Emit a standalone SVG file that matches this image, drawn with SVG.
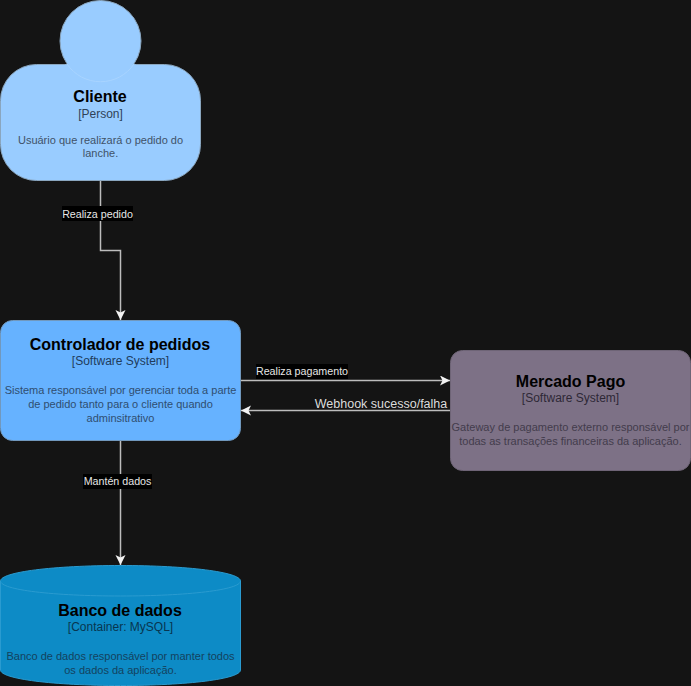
<svg xmlns="http://www.w3.org/2000/svg" width="691" height="686" viewBox="0 0 691 686">
<defs>
<marker id="ah" markerUnits="userSpaceOnUse" markerWidth="12" markerHeight="12" refX="10" refY="5" orient="auto"><path d="M0 0L10 5L0 10L2.500 5Z" fill="#f2f2f2"/></marker>
</defs>
<style>
text{font-family:"Liberation Sans",Arial,sans-serif;text-anchor:middle}
.t{font-weight:700;fill:#000}
.s{font-size:12px}
.d{font-size:11px}
.e{fill:none;stroke:#bdbdbd;stroke-width:1.5}
.a{marker-end:url(#ah)}
.l{font-size:10.700px;fill:#e6e6e6}
.bg{fill:#000}
</style>
<rect width="691" height="686" fill="#141414"/>
<g id="connectors">
<path class="e a" d="M100.500 181V250.500H120.500V320"/>
<path class="e a" d="M241 380.500H450"/>
<path class="e a" d="M450 410.500H241"/>
<path class="e a" d="M120.500 441V565"/>
<rect class="bg" x="62" y="206" width="71" height="15"/>
<text class="l" x="97.500" y="217.500">Realiza pedido</text>
<rect class="bg" x="256" y="364" width="92" height="15"/>
<text class="l" x="302" y="375">Realiza pagamento</text>
<text x="381" y="407.500" font-size="12.500px" fill="#dcdcdc">Webhook sucesso/falha</text>
<rect class="bg" x="83" y="474" width="69" height="15"/>
<text class="l" x="117.500" y="485">Mantén dados</text>
</g>
<g id="cliente">
<rect x="0.500" y="64.500" width="200" height="116" rx="36" fill="#99ccff" stroke="#8aa6bf"/>
<circle cx="100.500" cy="41" r="40.500" fill="#99ccff" stroke="#8aa6bf" stroke-width="1"/>
<path d="M65 64.500A40.500 40.500 0 0 0 136 64.500Z" fill="#99ccff"/>
<path d="M67 64A40.500 40.500 0 0 0 134 64" fill="none" stroke="#a8d4ff"/>
<text class="t" x="100" y="102" font-size="16px">Cliente</text>
<text class="s" x="100.500" y="118" fill="#2f4258">[Person]</text>
<text class="d" x="100.500" y="144" fill="#3f5268">Usuário que realizará o pedido do</text>
<text class="d" x="100.500" y="157" fill="#3f5268">lanche.</text>
</g>
<g id="controlador">
<rect x="0.500" y="320.500" width="240" height="120" rx="12" fill="#66b2ff" stroke="#7198bd"/>
<text class="t" x="120" y="350" font-size="16px">Controlador de pedidos</text>
<text class="s" x="120.500" y="365" fill="#213c5c">[Software System]</text>
<text class="d" x="120.500" y="394" fill="#2f4e70">Sistema responsável por gerenciar toda a parte</text>
<text class="d" x="120.500" y="408" fill="#2f4e70">de pedido tanto para o cliente quando</text>
<text class="d" x="120.500" y="422" fill="#2f4e70">adminsitrativo</text>
</g>
<g id="mercado-pago">
<rect x="450.500" y="350.500" width="240" height="120" rx="12" fill="#7d7186" stroke="#6e6476"/>
<text class="t" x="570.500" y="387" font-size="16px">Mercado Pago</text>
<text class="s" x="570.500" y="402" fill="#2e2836">[Software System]</text>
<text class="d" x="570.500" y="431" fill="#433c4c">Gateway de pagamento externo responsável por</text>
<text class="d" x="570.500" y="445" fill="#433c4c">todas as transações financeiras da aplicação.</text>
</g>
<g id="banco">
<path d="M0.500 581C0.500 572 54 565.500 120.500 565.500S240.500 572 240.500 581V670C240.500 679 187 685.500 120.500 685.500S0.500 679 0.500 670Z" fill="#0d8bc6" stroke="#2a9bd0"/>
<path d="M0.500 581C0.500 590 54 596 120.500 596S240.500 590 240.500 581" fill="none" stroke="#2a9bd0"/>
<text class="t" x="120" y="616" font-size="16px">Banco de dados</text>
<text class="s" x="120.500" y="630.500" fill="#083650">[Container: MySQL]</text>
<text class="d" x="120.500" y="660" fill="#14425e">Banco de dados responsável por manter todos</text>
<text class="d" x="120.500" y="674" fill="#14425e">os dados da aplicação.</text>
</g>
</svg>
